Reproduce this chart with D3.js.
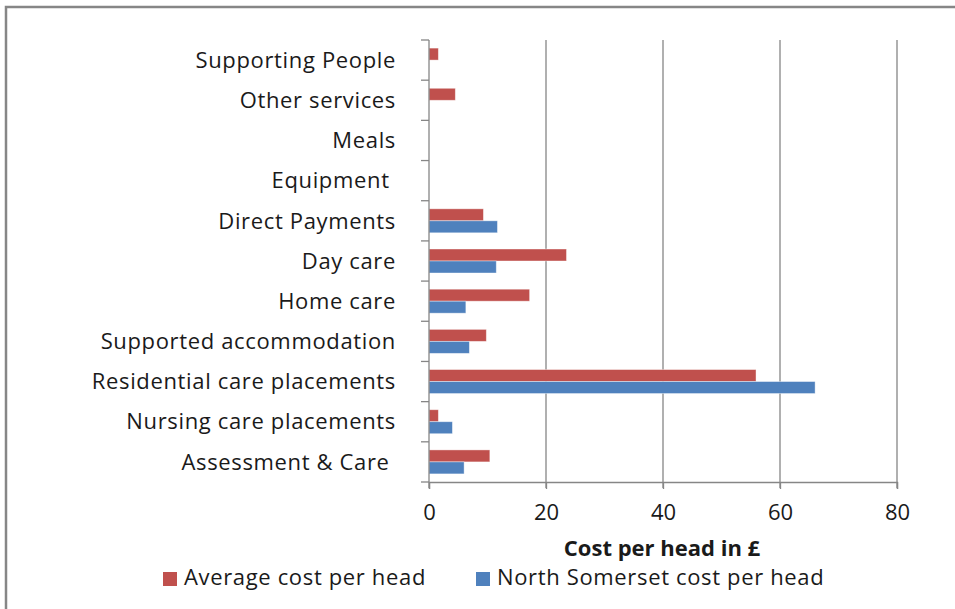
<!DOCTYPE html>
<html>
<head>
<meta charset="utf-8">
<script src="https://cdn.jsdelivr.net/npm/d3@7"></script>
<style>
  body { margin: 0; background: #fff; }
  svg { display: block; }
  text { font-family: "Open Sans", Lato, sans-serif; fill: #1a1a1a; }
</style>
</head>
<body>
<div id="chart"></div>
<script>
// categories, top to bottom as drawn
var categories = ["Supporting People", "Other services", "Meals", "Equipment ", "Direct Payments",
    "Day care", "Home care", "Supported accommodation", "Residential care placements",
    "Nursing care placements", "Assessment & Care "];
var seriesNames = ["Average cost per head", "North Somerset cost per head"];
var averageCost = [1.6, 4.5, 0, 0, 9.3, 23.5, 17.2, 9.8, 55.9, 1.6, 10.4];
var northSomersetCost = [0, 0, 0, 0, 11.7, 11.5, 6.3, 6.9, 66.0, 4.0, 6.0];
var xTicks = [0, 20, 40, 60, 80];
var colors = ["#C0504D", "#4F81BD"];

var chartW = 955, chartH = 609;
var plotLeft = 429, plotRight = 897, plotTop = 40, plotBottom = 482;
var fontSize = "22px";
var spacing = "0.65px";
var lineColor = "#868686";

var svg = d3.select("#chart").append("svg").attr("width", chartW).attr("height", chartH);

// outer chart border (open at right and bottom like the crop)
svg.append("path")
    .attr("d", "M6,612 L6,7 L960,7")
    .attr("fill", "none").attr("stroke", lineColor).attr("stroke-width", 2.5);

var x = d3.scaleLinear().domain([0, 80]).range([plotLeft, plotRight]);
var y = d3.scaleBand().domain(categories).range([plotTop, plotBottom]);
var ySub = d3.scaleBand().domain(seriesNames).range([0, y.bandwidth()]).paddingOuter(0.675);

// gridlines
svg.append("g")
    .selectAll("line").data(xTicks.slice(1)).join("line")
    .attr("x1", function(d) { return x(d); }).attr("x2", function(d) { return x(d); })
    .attr("y1", plotTop).attr("y2", plotBottom + 6)
    .attr("stroke", lineColor).attr("stroke-width", 1.3);

// bars
var rows = categories.map(function(c, i) {
    return { cat: c, vals: [averageCost[i], northSomersetCost[i]] };
});
var groups = svg.append("g").selectAll("g").data(rows).join("g")
    .attr("transform", function(d) { return "translate(0," + y(d.cat) + ")"; });
groups.selectAll("rect")
    .data(function(d) { return d.vals.map(function(v, j) { return { s: seriesNames[j], v: v, j: j }; }); })
    .join("rect")
    .attr("x", x(0))
    .attr("y", function(d) { return ySub(d.s); })
    .attr("width", function(d) { return x(d.v) - x(0); })
    .attr("height", ySub.bandwidth())
    .attr("fill", function(d) { return colors[d.j]; })
    .attr("stroke", function(d) { return d.v > 0 ? "rgba(255,255,255,0.5)" : "none"; })
    .attr("stroke-width", 0.8);

// y axis line + ticks at band edges
svg.append("line")
    .attr("x1", x(0)).attr("x2", x(0)).attr("y1", plotTop).attr("y2", plotBottom + 6)
    .attr("stroke", lineColor).attr("stroke-width", 1.3);
var edges = categories.map(function(c) { return y(c); }).concat([plotBottom]);
svg.append("g").selectAll("line").data(edges).join("line")
    .attr("x1", x(0) - 8).attr("x2", x(0))
    .attr("y1", function(d) { return d; }).attr("y2", function(d) { return d; })
    .attr("stroke", lineColor).attr("stroke-width", 1.3);

// category labels
svg.append("g").selectAll("text").data(categories).join("text")
    .attr("x", 396)
    .attr("y", function(d) { return y(d) + y.bandwidth() / 2; })
    .attr("dy", "0.35em")
    .attr("text-anchor", "end")
    .attr("xml:space", "preserve")
    .style("white-space", "pre")
    .style("font-size", fontSize)
    .style("letter-spacing", spacing)
    .text(function(d) { return d; });

// x axis
var xAxis = svg.append("g")
    .attr("transform", "translate(0," + plotBottom + ")")
    .call(d3.axisBottom(x).tickValues(xTicks).tickSize(7));
xAxis.select(".domain").attr("stroke", lineColor).attr("stroke-width", 1.3);
xAxis.selectAll(".tick line").attr("stroke", lineColor).attr("stroke-width", 1.3);
xAxis.selectAll(".tick text")
    .attr("y", 38).attr("dy", null)
    .style("font-size", fontSize).attr("font-family", null).attr("fill", "#1a1a1a");

// axis title
svg.append("text")
    .attr("x", 662).attr("y", 556)
    .attr("text-anchor", "middle")
    .style("font-size", "22px").style("font-weight", "bold")
    .text("Cost per head in £");

// legend
var legendX = [163, 476];
var legend = svg.append("g").selectAll("g").data(seriesNames).join("g")
    .attr("transform", function(d, i) { return "translate(" + legendX[i] + ",572)"; });
legend.append("rect").attr("width", 14).attr("height", 14)
    .attr("fill", function(d, i) { return colors[i]; });
legend.append("text").attr("x", 21).attr("y", 13)
    .style("font-size", fontSize)
    .style("letter-spacing", spacing)
    .text(function(d) { return d; });
</script>
</body>
</html>
